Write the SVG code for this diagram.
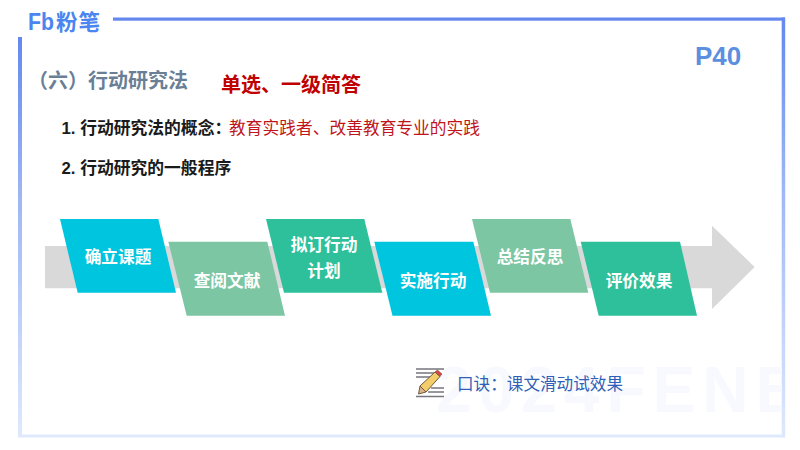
<svg xmlns="http://www.w3.org/2000/svg" width="800" height="450" viewBox="0 0 800 450">
<defs>
<linearGradient id="vf" x1="0" y1="0" x2="0" y2="1"><stop offset="0" stop-color="#6488ee"/><stop offset="0.4" stop-color="#9db6f5"/><stop offset="1" stop-color="#dfe9fd"/></linearGradient>
<clipPath id="wm"><rect x="430" y="350" width="352" height="84"/></clipPath>
</defs>
<style>
text{font-family:"Liberation Sans","Noto Sans CJK SC",sans-serif}
.s{font-size:16.700px;font-weight:700;fill:#fff;text-anchor:middle}
.b{font-size:16.800px;font-weight:700;fill:#1a1a1a}
</style>
<rect width="800" height="450" fill="#fff"/>
<g id="frame">
<rect x="113" y="17.500" width="672" height="3.200" fill="#6488ee"/>
<rect x="18" y="37" width="4" height="400" fill="url(#vf)"/>
<rect x="781.700" y="17.500" width="3.500" height="420" fill="url(#vf)"/>
<rect x="18" y="434.500" width="767" height="3" fill="#dfe9fd"/>
</g>
<text x="436" y="412" font-size="64" font-weight="700" fill="#f8f9fe" clip-path="url(#wm)" letter-spacing="7">2024FENBI</text>
<g id="logo" fill="#4b85f0">
<text x="28" y="29.500" font-size="23" font-weight="700" textLength="26" lengthAdjust="spacingAndGlyphs">Fb</text>
<text x="56" y="29.500" font-size="21.500" font-weight="700" style="font-family:'Noto Sans CJK SC',sans-serif" textLength="44">粉笔</text>
</g>
<text x="695" y="65" font-size="26" font-weight="700" fill="#5c8fe0">P40</text>
<text x="28" y="88" font-size="20" font-weight="700" fill="#6a7f96">（六）行动研究法</text>
<text x="221" y="92" font-size="20" font-weight="700" fill="#c00000" textLength="140">单选、一级简答</text>
<text x="61.500" y="134" class="b">1. 行动研究法的概念：</text>
<text x="229" y="134" font-size="16.700" fill="#c0151c" textLength="251">教育实践者、改善教育专业的实践</text>
<text x="61.500" y="174" class="b">2. 行动研究的一般程序</text>
<g id="connectors">
<polygon id="flow-arrow" points="45,246 712,246 712,225.700 754.700,267 712,309 712,288.300 45,288.300" fill="#d9d9d9"/>
</g>
<g id="n1"><polygon points="60,219 158.300,219 176,292.700 77.700,292.700" fill="#00c5de"/><text x="118" y="263" class="s">确立课题</text></g>
<g id="n2"><polygon points="168.300,241.700 267.300,241.700 285,315.700 186.700,315.700" fill="#7cc6a3"/><text x="227" y="286.500" class="s">查阅文献</text></g>
<g id="n3"><polygon points="266,219 364.300,219 382.300,292.700 284,292.700" fill="#2dc09b"/><text x="324" y="251" class="s">拟订行动</text><text x="324" y="277" class="s">计划</text></g>
<g id="n4"><polygon points="374.300,241.700 473.300,241.700 491,315.700 392.500,315.700" fill="#00c5de"/><text x="433" y="286.500" class="s">实施行动</text></g>
<g id="n5"><polygon points="472,219 570.300,219 588.300,292.700 490,292.700" fill="#7cc6a3"/><text x="530" y="263" class="s">总结反思</text></g>
<g id="n6"><polygon points="580.700,241.700 680,241.700 697,315.700 598.700,315.700" fill="#2dc09b"/><text x="639" y="286.500" class="s">评价效果</text></g>
<g id="pencil">
<path d="M416 369H444M416 373H436M416 377H431M431 388H444M428 392H444M416 396.500H444" stroke="#77757f" stroke-width="1.300" fill="none"/>
<polygon points="435,372 440,376.500 426,392 420,386" fill="#f2cd6a" stroke="#6f5a3c" stroke-width="1"/>
<polygon points="420,386 426,392 418.500,394" fill="#d8b48c" stroke="#6f5a3c" stroke-width="1"/>
<polygon points="435,372 437.500,370 442,374 440,376.500" fill="#d8434a" stroke="#6f5a3c" stroke-width=".6"/>
</g>
<text x="457" y="390" font-size="16.600" fill="#2f5fb8" textLength="166">口诀：课文滑动试效果</text>
</svg>
